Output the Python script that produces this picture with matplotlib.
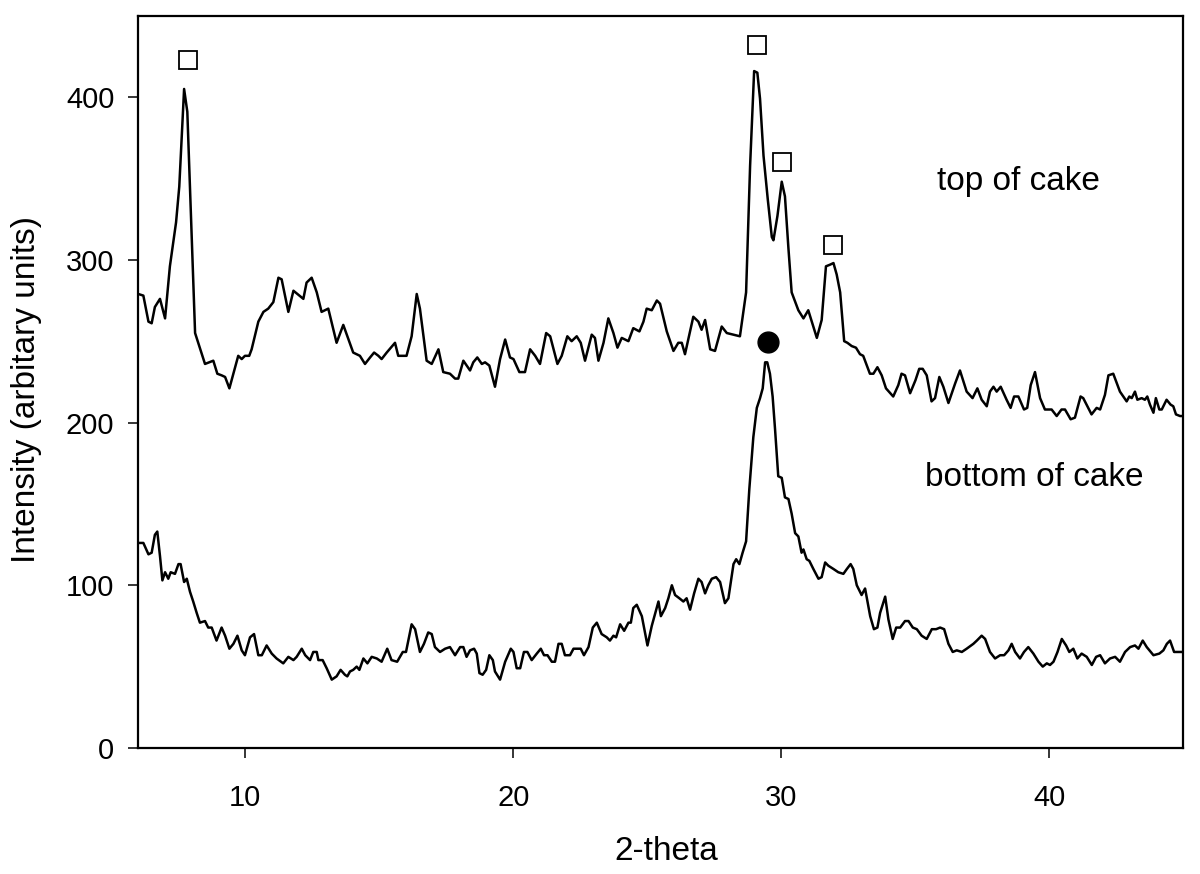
import matplotlib
matplotlib.use("Agg")
import matplotlib.pyplot as plt

plt.rcParams['font.family'] = ['Liberation Sans', 'DejaVu Sans']

# top of cake pattern (2-theta, intensity)
top_theta = [6.01, 6.20, 6.39, 6.51, 6.63, 6.82, 7.01, 7.19, 7.42, 7.54, 7.72, 7.84, 8.13, 8.50, 8.81,
             8.96, 9.12, 9.25, 9.41, 9.74, 9.87, 9.99, 10.15, 10.24, 10.49, 10.68, 10.86, 11.05, 11.24,
             11.36, 11.61, 11.80, 12.17, 12.29, 12.48, 12.67, 12.85, 13.10, 13.41, 13.66, 14.03, 14.28,
             14.47, 14.66, 14.81, 14.97, 15.09, 15.28, 15.59, 15.71, 16.02, 16.21, 16.40, 16.52, 16.77,
             16.96, 17.21, 17.39, 17.64, 17.83, 17.95, 18.14,
             18.39, 18.51, 18.66, 18.83, 18.95, 19.11, 19.32, 19.51, 19.70, 19.88, 20.01, 20.23, 20.44,
             20.63, 20.82, 21.00, 21.23, 21.38, 21.65, 21.81, 22.02, 22.18, 22.37, 22.52, 22.68, 22.93,
             23.05, 23.18, 23.37, 23.55, 23.74, 23.89, 24.05, 24.30, 24.48, 24.71, 24.86, 24.98, 25.17,
             25.36, 25.48, 25.73, 25.98, 26.16, 26.29, 26.41, 26.72, 26.91, 27.03, 27.16, 27.35, 27.53,
             27.78, 27.97, 28.22, 28.46, 28.69, 28.84, 28.99, 29.11, 29.21, 29.34, 29.50, 29.65, 29.71,
             29.86, 30.02, 30.14, 30.27, 30.39, 30.64, 30.83, 31.01, 31.14, 31.33, 31.51, 31.67,
             31.82, 31.95, 32.07, 32.20, 32.35, 32.47, 32.63, 32.79,
             32.94, 33.06, 33.31, 33.44, 33.59, 33.75, 33.91, 34.18, 34.37, 34.49, 34.62, 34.81, 35.01,
             35.15, 35.28, 35.43, 35.61, 35.74, 35.90, 36.05, 36.24, 36.49, 36.67, 36.92, 37.14, 37.32,
             37.48, 37.67, 37.79, 37.92, 38.04, 38.19, 38.41, 38.56, 38.69, 38.85, 39.06, 39.18, 39.31,
             39.47, 39.66, 39.84, 40.09, 40.28, 40.46, 40.59, 40.80, 40.96, 41.17, 41.27, 41.58, 41.77,
             41.90, 42.08, 42.21, 42.39, 42.64, 42.89, 42.99, 43.08, 43.20, 43.29, 43.45, 43.57, 43.66,
             43.76, 43.89, 43.98, 44.11, 44.20, 44.38, 44.53, 44.63, 44.73, 44.88, 45.0]
top_counts = [279, 278, 262, 261, 271, 276, 264, 296, 323, 345, 405, 391, 255, 236, 238,
              230, 229, 228, 221, 241, 239, 241, 241, 245, 262, 268, 270, 274, 289,
              288, 268, 281, 276, 286, 289, 280, 268, 270, 249, 260, 243, 241,
              236, 240, 243, 241, 239, 243, 249, 241, 241, 253, 279, 270, 238,
              236, 245, 231, 230, 227, 227, 238,
              232, 237, 240, 236, 237, 235, 222, 239, 251, 240, 239, 231, 231,
              245, 241, 236, 255, 253, 236, 241, 253, 250, 253, 249, 238, 254,
              252, 238, 249, 264, 255, 246, 252, 250, 258, 256, 262, 270, 269,
              275, 273, 256, 244, 249, 249, 242, 265, 262, 257, 263, 245, 244,
              259, 255, 254, 253, 280, 358, 416, 415, 399, 364, 337, 314, 312,
              327, 348, 339, 307, 280, 269, 264, 269, 262, 252, 263, 296,
              297, 298, 291, 280, 250, 249, 247, 246,
              242, 241, 230, 230, 234, 229, 221, 216, 223, 230, 229, 218, 226,
              233, 233, 229, 213, 215, 228, 222, 212, 224, 232, 219, 215, 221,
              214, 210, 219, 222, 219, 222, 214, 209, 216, 216, 208, 209, 223,
              231, 215, 208, 208, 204, 208, 208, 202, 203, 216, 215, 205, 209,
              208, 217, 229, 230, 219, 213, 216, 215, 219, 214, 215, 214, 216,
              211, 206, 215, 208, 208, 214, 211, 210, 205, 204, 204]

# bottom of cake pattern
bottom_theta = [6.01, 6.20, 6.39, 6.51, 6.63, 6.72, 6.82, 6.91, 7.01, 7.13, 7.22, 7.38, 7.51, 7.59,
                7.72, 7.82, 7.94, 8.06, 8.19, 8.31, 8.50, 8.62, 8.75, 8.93, 9.12, 9.25, 9.41, 9.56,
                9.71, 9.87, 9.99, 10.18, 10.33, 10.49, 10.62, 10.80, 10.99, 11.17, 11.42, 11.61, 11.80,
                11.92, 12.11, 12.24, 12.42, 12.54, 12.67, 12.73, 12.89, 13.04, 13.23, 13.41, 13.56,
                13.72, 13.81, 13.91, 14.03, 14.16, 14.26, 14.41, 14.56, 14.72, 14.91, 15.09, 15.30,
                15.46, 15.67, 15.88, 16.00, 16.21, 16.34, 16.52, 16.67, 16.83, 16.96, 17.08, 17.27,
                17.46, 17.64, 17.83, 18.02, 18.14, 18.26,
                18.39, 18.54, 18.64, 18.74, 18.86, 18.99, 19.11, 19.24, 19.32, 19.51, 19.70, 19.91,
                20.01, 20.13, 20.26, 20.40, 20.53, 20.69, 20.88, 21.03, 21.15, 21.28, 21.44, 21.56,
                21.69, 21.81, 21.93, 22.12, 22.25, 22.37, 22.52, 22.64, 22.81, 22.97, 23.12, 23.30,
                23.49, 23.61, 23.74, 23.84, 23.99, 24.14, 24.30, 24.39, 24.48, 24.61, 24.80, 25.01,
                25.17, 25.42, 25.51, 25.67, 25.79, 25.92, 26.04, 26.20, 26.35, 26.47, 26.60, 26.75,
                26.91, 27.03, 27.16, 27.28, 27.41, 27.57, 27.72, 27.90, 28.03, 28.22, 28.32, 28.44,
                28.56, 28.69, 28.81, 28.96, 29.09, 29.21, 29.31, 29.40, 29.48, 29.58, 29.68, 29.77,
                29.89, 30.02, 30.14, 30.27, 30.39, 30.52, 30.64, 30.76, 30.83, 30.95, 31.05, 31.20,
                31.39, 31.51, 31.64,
                31.76, 31.95, 32.13, 32.32, 32.45, 32.59, 32.69, 32.82, 33.00, 33.13, 33.32, 33.46,
                33.59, 33.69, 33.88, 34.00, 34.16, 34.29, 34.44, 34.62, 34.75, 34.91, 35.06, 35.24,
                35.43, 35.62, 35.78, 35.93, 36.08, 36.24, 36.40, 36.55, 36.74, 36.92, 37.17, 37.30,
                37.48, 37.61, 37.79, 37.98, 38.17, 38.32, 38.48, 38.60, 38.73, 38.91, 39.06, 39.22,
                39.41, 39.60, 39.76, 39.91, 40.03, 40.16, 40.31, 40.47, 40.63, 40.75, 40.90, 41.05,
                41.21, 41.40, 41.59, 41.75, 41.90, 42.08, 42.27, 42.46, 42.64, 42.83, 43.02, 43.20,
                43.33, 43.49, 43.64, 43.89, 44.11, 44.26, 44.39, 44.51, 44.66, 45.0]
bottom_counts = [126, 126, 119, 120, 131, 133, 118, 103, 108, 104, 108, 107, 113, 113,
                 102, 104, 96, 90, 83, 77, 78, 74, 74, 66, 74, 69, 61, 64,
                 69, 60, 57, 68, 70, 57, 57, 63, 58, 55, 52, 56, 54,
                 56, 61, 57, 54, 59, 59, 54, 54, 49, 42, 44, 48,
                 45, 44, 47, 48, 50, 48, 55, 52, 56, 55, 53, 61,
                 54, 53, 59, 59, 76, 73, 59, 64, 71, 70, 62, 59,
                 61, 62, 57, 62, 62, 56,
                 60, 61, 58, 46, 45, 48, 57, 54, 47, 42, 53, 61,
                 59, 49, 49, 59, 59, 54, 58, 61, 57, 57, 53, 53,
                 64, 64, 57, 57, 61, 61, 61, 57, 62, 74, 77, 70,
                 68, 66, 69, 68, 76, 72, 77, 77, 86, 88, 81, 63,
                 75, 90, 81, 86, 92, 100, 94, 92, 90, 92, 85, 95,
                 104, 102, 95, 100, 104, 105, 102, 89, 92, 113, 116, 113,
                 120, 127, 159, 191, 209, 215, 221, 237, 237, 230, 216, 196,
                 167, 166, 154, 153, 144, 132, 130, 120, 122, 116, 115, 110,
                 104, 105, 114,
                 112, 110, 108, 107, 110, 113, 110, 100, 94, 98, 81, 73,
                 74, 83, 93, 79, 67, 74, 74, 78, 78, 74, 73, 69,
                 67, 73, 73, 74, 73, 64, 59, 60, 59, 61, 64, 66,
                 69, 67, 59, 55, 57, 57, 60, 64, 59, 55, 59, 62,
                 58, 53, 50, 52, 51, 53, 59, 67, 63, 59, 61, 55,
                 58, 56, 51, 56, 57, 52, 55, 56, 53, 59, 62, 63,
                 61, 66, 62, 57, 58, 60, 64, 66, 59, 59]

# peak markers
square_theta = [7.87, 29.08, 30.03, 31.92]
square_counts = [423, 432, 360, 309]
dot_theta = [29.52]
dot_counts = [249.5]

fig = plt.figure(figsize=(12, 8.74), dpi=100)
ax = fig.add_axes([0.115, 0.1442, 0.871, 0.8378])

ax.plot(top_theta, top_counts, color='black', lw=1.8)
ax.plot(bottom_theta, bottom_counts, color='black', lw=1.8)
ax.plot(square_theta, square_counts, 's', ms=12.5, mfc='white', mec='black', mew=1.3)
ax.plot(dot_theta, dot_counts, 'o', ms=15, color='black')

ax.text(38.84, 348, 'top of cake', fontsize=24, ha='center', va='center')
ax.text(39.43, 166, 'bottom of cake', fontsize=24, ha='center', va='center')

ax.set_xlim(6, 45)
ax.set_ylim(0, 450)
ax.set_xticks([10, 20, 30, 40])
ax.set_yticks([0, 100, 200, 300, 400])
ax.tick_params(axis='both', direction='out', length=7, width=1.1, labelsize=21)
ax.tick_params(axis='y', pad=10)
ax.tick_params(axis='x', pad=19)
for sp in ax.spines.values():
    sp.set_linewidth(1.6)

ax.set_xlabel('2-theta', fontsize=24)
ax.set_ylabel('Intensity (arbitary units)', fontsize=24)
ax.xaxis.set_label_coords(0.505, -0.12)
ax.yaxis.set_label_coords(-0.092, 0.49)

fig.savefig('out.png', dpi=100)
